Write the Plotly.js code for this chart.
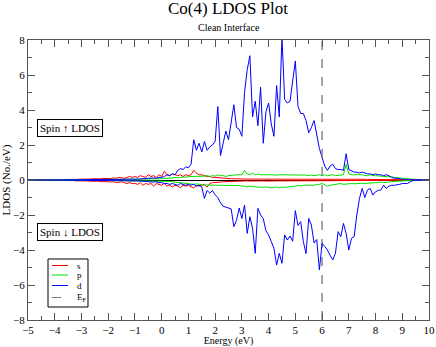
<!DOCTYPE html>
<html>
<head>
<meta charset="utf-8">
<script src="https://cdn.plot.ly/plotly-3.0.1.min.js"></script>
<style>html,body{margin:0;padding:0;background:#fff;}#chart{width:436px;height:347px;}</style>
</head>
<body>
<div id="chart"></div>
<script>
// Energy grid (eV)
const energy = [
-5.0,-4.9,-4.8,-4.7,-4.6,-4.5,-4.4,-4.3,-4.2,-4.1,
-4.0,-3.9,-3.8,-3.7,-3.6,-3.5,-3.4,-3.3,-3.2,-3.1,
-3.0,-2.9,-2.8,-2.7,-2.6,-2.5,-2.4,-2.3,-2.2,-2.1,
-2.0,-1.9,-1.8,-1.7,-1.6,-1.5,-1.4,-1.3,-1.2,-1.1,
-1.0,-0.9,-0.8,-0.7,-0.6,-0.5,-0.4,-0.3,-0.2,-0.1,
0.0,0.1,0.2,0.3,0.4,0.5,0.6,0.7,0.8,0.9,
1.0,1.1,1.2,1.3,1.4,1.5,1.6,1.7,1.8,1.9,
2.0,2.1,2.2,2.3,2.4,2.5,2.6,2.7,2.8,2.9,
3.0,3.1,3.2,3.3,3.4,3.5,3.6,3.7,3.8,3.9,
4.0,4.1,4.2,4.3,4.4,4.5,4.6,4.7,4.8,4.9,
5.0,5.1,5.2,5.3,5.4,5.5,5.6,5.7,5.8,5.9,
6.0,6.1,6.2,6.3,6.4,6.5,6.6,6.7,6.8,6.9,
7.0,7.1,7.2,7.3,7.4,7.5,7.6,7.7,7.8,7.9,
8.0,8.1,8.2,8.3,8.4,8.5,8.6,8.7,8.8,8.9,
9.0,9.1,9.2,9.3,9.4,9.5,9.6,9.7,9.8,9.9,
10.0];

const sUp = [
0,0,0,0,0.01,0.01,0.01,0.01,0.02,0.01,
0.02,0.02,0.03,0.02,0.03,0.02,0.03,0.04,0.03,0.04,
0.05,0.04,0.06,0.05,0.07,0.06,0.08,0.07,0.09,0.08,
0.1,0.08,0.12,0.1,0.15,0.12,0.1,0.15,0.2,0.15,
0.2,0.15,0.25,0.2,0.15,0.3,0.2,0.25,0.15,0.3,
0.2,0.5,0.3,0.25,0.35,0.3,0.25,0.3,0.2,0.3,
0.25,0.3,0.55,0.4,0.3,0.3,0.25,0.2,0.2,0.15,
0.15,0.13,0.12,0.1,0.09,0.08,0.07,0.07,0.06,0.06,
0.06,0.05,0.06,0.05,0.05,0.05,0.06,0.05,0.05,0.05,
0.05,0.05,0.04,0.05,0.05,0.04,0.05,0.05,0.04,0.05,
0.04,0.04,0.05,0.04,0.04,0.05,0.04,0.04,0.04,0.05,
0.04,0.04,0.04,0.04,0.05,0.04,0.04,0.05,0.04,0.08,
0.04,0.04,0.04,0.04,0.04,0.04,0.04,0.03,0.03,0.03,
0.03,0.03,0.03,0.03,0.02,0.02,0.02,0.02,0.02,0.02,
0.01,0.01,0.01,0.01,0.01,0.01,0.01,0.01,0.01,0.01,
0.01];

const sDn = [
0,0,0,0,-0.01,-0.01,-0.01,-0.02,-0.01,-0.02,
-0.02,-0.03,-0.02,-0.03,-0.04,-0.03,-0.04,-0.03,-0.05,-0.04,
-0.05,-0.06,-0.05,-0.07,-0.06,-0.08,-0.07,-0.09,-0.08,-0.1,
-0.1,-0.12,-0.1,-0.15,-0.12,-0.1,-0.15,-0.2,-0.15,-0.2,
-0.2,-0.25,-0.15,-0.3,-0.2,-0.25,-0.2,-0.35,-0.2,-0.25,
-0.3,-0.2,-0.35,-0.3,-0.4,-0.3,-0.35,-0.45,-0.3,-0.35,
-0.3,-0.4,-0.45,-0.3,-0.35,-0.3,-0.25,-0.4,-0.2,-0.15,
-0.15,-0.13,-0.12,-0.1,-0.09,-0.08,-0.08,-0.07,-0.07,-0.06,
-0.06,-0.06,-0.05,-0.06,-0.05,-0.05,-0.06,-0.05,-0.05,-0.06,
-0.05,-0.05,-0.06,-0.05,-0.05,-0.05,-0.05,-0.05,-0.04,-0.05,
-0.04,-0.05,-0.04,-0.04,-0.05,-0.04,-0.04,-0.04,-0.05,-0.04,
-0.04,-0.04,-0.04,-0.04,-0.04,-0.04,-0.04,-0.04,-0.04,-0.04,
-0.04,-0.04,-0.04,-0.03,-0.04,-0.03,-0.03,-0.03,-0.03,-0.03,
-0.03,-0.03,-0.03,-0.02,-0.02,-0.02,-0.02,-0.02,-0.02,-0.02,
-0.01,-0.01,-0.01,-0.01,-0.01,-0.01,-0.01,-0.01,-0.01,-0.01,
-0.01];

const pUp = [
0,0,0,0,0,0,0,0.01,0,0.01,
0.01,0.01,0.01,0.01,0.01,0.01,0.01,0.02,0.01,0.02,
0.02,0.02,0.02,0.02,0.03,0.02,0.03,0.03,0.03,0.03,
0.03,0.03,0.04,0.03,0.04,0.04,0.04,0.04,0.05,0.04,
0.05,0.05,0.05,0.05,0.05,0.05,0.05,0.06,0.05,0.06,
0.05,0.08,0.1,0.1,0.12,0.15,0.12,0.15,0.15,0.18,
0.18,0.2,0.2,0.22,0.2,0.2,0.22,0.25,0.2,0.25,
0.22,0.3,0.25,0.25,0.2,0.25,0.25,0.28,0.3,0.3,
0.3,0.55,0.35,0.3,0.4,0.3,0.35,0.3,0.28,0.3,
0.3,0.28,0.3,0.28,0.3,0.3,0.28,0.28,0.3,0.28,
0.3,0.28,0.3,0.3,0.28,0.25,0.28,0.25,0.28,0.3,
0.25,0.3,0.25,0.28,0.3,0.25,0.28,0.3,0.3,0.9,
0.35,0.3,0.3,0.3,0.28,0.3,0.25,0.25,0.3,0.25,
0.25,0.25,0.22,0.2,0.2,0.2,0.18,0.15,0.12,0.1,
0.1,0.08,0.06,0.05,0.04,0.03,0.02,0.02,0.01,0.01,
0.01];

const pDn = [
0,0,0,0,0,0,0,-0.01,0,-0.01,
-0.01,-0.01,-0.01,-0.01,-0.01,-0.01,-0.01,-0.02,-0.01,-0.02,
-0.02,-0.02,-0.02,-0.02,-0.03,-0.02,-0.03,-0.03,-0.03,-0.03,
-0.03,-0.03,-0.04,-0.03,-0.04,-0.04,-0.04,-0.04,-0.05,-0.04,
-0.05,-0.05,-0.05,-0.05,-0.05,-0.05,-0.05,-0.06,-0.05,-0.06,
-0.05,-0.06,-0.08,-0.08,-0.1,-0.12,-0.1,-0.15,-0.15,-0.2,
-0.2,-0.2,-0.25,-0.22,-0.25,-0.25,-0.3,-0.28,-0.3,-0.3,
-0.3,-0.3,-0.3,-0.32,-0.3,-0.3,-0.33,-0.3,-0.3,-0.32,
-0.35,-0.35,-0.4,-0.35,-0.38,-0.4,-0.42,-0.4,-0.42,-0.4,
-0.42,-0.45,-0.42,-0.4,-0.45,-0.4,-0.42,-0.4,-0.38,-0.4,
-0.35,-0.3,-0.35,-0.3,-0.3,-0.28,-0.3,-0.3,-0.25,-0.25,
-0.2,-0.3,-0.35,-0.3,-0.28,-0.25,-0.25,-0.2,-0.25,-0.22,
-0.2,-0.2,-0.22,-0.2,-0.2,-0.18,-0.2,-0.18,-0.2,-0.15,
-0.15,-0.15,-0.12,-0.15,-0.12,-0.1,-0.1,-0.08,-0.08,-0.06,
-0.05,-0.05,-0.04,-0.03,-0.03,-0.02,-0.02,-0.01,-0.01,-0.01,
-0.01];

const dUp = [
0,0,0,0,0,0.01,0,0.01,0.01,0.01,
0.01,0.01,0.01,0.01,0.01,0.01,0.02,0.01,0.02,0.02,
0.02,0.02,0.02,0.02,0.03,0.02,0.03,0.03,0.03,0.03,
0.03,0.03,0.04,0.03,0.04,0.04,0.04,0.05,0.04,0.05,
0.05,0.05,0.06,0.08,0.1,0.08,0.1,0.12,0.1,0.15,
0.15,0.2,0.3,0.25,0.35,0.3,0.55,0.65,0.6,0.75,
0.7,0.9,2.3,1.7,2.1,1.6,2.2,1.7,1.9,2.0,
2.2,4.2,1.4,2.1,2.8,2.3,3.3,4.3,3.0,2.9,
2.5,5.0,6.3,7.1,3.6,4.5,3.1,5.3,2.1,3.9,
4.4,3.2,2.5,5.4,3.6,8.2,4.6,4.4,4.5,5.8,
6.8,4.2,3.8,3.8,3.4,2.7,3.0,3.4,2.7,1.8,
1.3,0.8,0.55,0.8,0.9,0.65,0.6,0.6,0.55,1.5,
0.6,0.5,0.45,0.45,0.4,0.45,0.4,0.35,0.35,0.3,
0.35,0.3,0.3,0.25,0.3,0.25,0.15,0.1,0.1,0.05,
0.04,0.03,0.03,0.02,0.02,0.02,0.02,0.01,0.01,0.01,
0.01];

const dDn = [
0,0,0,0,0,-0.01,0,-0.01,-0.01,-0.01,
-0.01,-0.01,-0.01,-0.01,-0.01,-0.01,-0.02,-0.01,-0.02,-0.02,
-0.02,-0.02,-0.02,-0.02,-0.03,-0.02,-0.03,-0.03,-0.03,-0.03,
-0.03,-0.03,-0.04,-0.03,-0.04,-0.04,-0.04,-0.05,-0.04,-0.05,
-0.05,-0.05,-0.06,-0.08,-0.1,-0.08,-0.1,-0.12,-0.1,-0.15,
-0.15,-0.2,-0.2,-0.25,-0.2,-0.25,-0.3,-0.2,-0.25,-0.3,
-0.25,-0.3,-0.25,-0.35,-0.3,-0.4,-1.05,-0.6,-0.75,-0.6,
-0.85,-1.0,-1.3,-1.5,-1.55,-1.6,-1.65,-2.67,-2.3,-1.6,
-2.2,-1.43,-3.05,-2.1,-2.76,-4.19,-1.62,-2.0,-2.2,-2.9,
-3.14,-3.52,-3.9,-4.86,-4.19,-4.76,-3.14,-3.43,-3.2,-3.5,
-1.75,-2.6,-2.38,-3.52,-4.2,-2.2,-2.57,-3.6,-3.4,-5.14,
-3.62,-3.8,-4.0,-4.3,-4.57,-4.19,-2.95,-3.24,-2.48,-3.05,
-4.0,-3.33,-3.24,-2.0,-1.05,-0.48,-1.0,-0.57,-0.48,-0.86,
-0.67,-0.6,-0.57,-0.29,-0.48,-0.35,-0.3,-0.3,-0.29,-0.25,
-0.2,-0.22,-0.2,-0.1,-0.03,-0.02,-0.02,-0.01,-0.01,-0.01,
-0.01];

const fermiEnergy = [6, 6];
const fermiSpan = [-8, 8];

// legend entries
const legendLabels = ['s', 'p', 'd', 'E<sub>F</sub>'];

const FONT = 'Liberation Serif, Times New Roman, serif';
const RED = '#ff0000', GREEN = '#00e000', BLUE = '#0000ff', FERMI = '#777777';
const legendColors = [RED, GREEN, BLUE, FERMI];
const legendDashes = ['solid', 'solid', 'solid', 'dash'];

const traces = [
  {x: energy, y: sUp, name: 's', mode: 'lines', line: {color: RED, width: 1}},
  {x: energy, y: pUp, name: 'p', mode: 'lines', line: {color: GREEN, width: 1}},
  {x: energy, y: dUp, name: 'd', mode: 'lines', line: {color: BLUE, width: 1}},
  {x: fermiEnergy, y: fermiSpan, name: 'E_F', mode: 'lines', line: {color: FERMI, width: 1.3, dash: 'dash'}},
  {x: energy, y: sDn, name: 's down', mode: 'lines', line: {color: RED, width: 1}},
  {x: energy, y: pDn, name: 'p down', mode: 'lines', line: {color: GREEN, width: 1}},
  {x: energy, y: dDn, name: 'd down', mode: 'lines', line: {color: BLUE, width: 1}}
];

const axisCommon = {
  showline: true, linecolor: '#555', linewidth: 1, mirror: 'ticks',
  ticks: 'inside', ticklen: 7, tickcolor: '#555', tickwidth: 1, automargin: false,
  showgrid: false, tickfont: {family: FONT, size: 11, color: '#000'}
};

// Compact boxed legend in the lower-left corner (paper coordinates)
const legBox = {x0: 0.0499, x1: 0.1496, y0: 0.0464, y1: 0.2179};
const legRowY = [0.1946, 0.1607, 0.1232, 0.0804];
const shapes = [
  {type: 'rect', xref: 'paper', yref: 'paper', x0: legBox.x0, x1: legBox.x1, y0: legBox.y0, y1: legBox.y1,
   line: {color: '#000', width: 1}, fillcolor: '#fff', layer: 'above'}
];
const annotations = [
  {xref: 'paper', yref: 'paper', x: 0.5, y: 1.043, text: 'Clean Interface', showarrow: false,
   font: {family: FONT, size: 10}, xanchor: 'center', yanchor: 'middle'},
  {x: -3.43, y: 2.95, text: 'Spin \u2191 LDOS', showarrow: false, font: {family: FONT, size: 11},
   bordercolor: '#000', borderwidth: 1, bgcolor: '#fff', borderpad: 2},
  {x: -3.43, y: -2.95, text: 'Spin \u2193 LDOS', showarrow: false, font: {family: FONT, size: 11},
   bordercolor: '#000', borderwidth: 1, bgcolor: '#fff', borderpad: 2}
];
legendLabels.forEach((lab, i) => {
  shapes.push({type: 'line', xref: 'paper', yref: 'paper', x0: 0.0599, x1: 0.0998, y0: legRowY[i], y1: legRowY[i],
               line: {color: legendColors[i], width: 1, dash: legendDashes[i]}, layer: 'above'});
  annotations.push({xref: 'paper', yref: 'paper', x: 0.117, y: legRowY[i], text: lab, showarrow: false,
                    xanchor: 'left', yanchor: 'middle', font: {family: FONT, size: 9}});
});

const layout = {
  width: 436, height: 347,
  margin: {l: 28, r: 7, t: 40, b: 27},
  paper_bgcolor: '#fff', plot_bgcolor: '#fff',
  font: {family: FONT, color: '#000'},
  title: {text: 'Co(4) LDOS Plot', font: {family: FONT, size: 17}, x: 0.523, xanchor: 'center', y: 0.978, yanchor: 'middle'},
  showlegend: false,
  xaxis: Object.assign({}, axisCommon, {
    range: [-5, 10], dtick: 1, tick0: -5, zeroline: false,
    minor: {dtick: 0.5, ticks: 'inside', ticklen: 4, tickcolor: '#555', showgrid: false},
    title: {text: 'Energy (eV)', font: {family: FONT, size: 10}, standoff: 2}
  }),
  yaxis: Object.assign({}, axisCommon, {
    range: [-8, 8], dtick: 2, tick0: -8,
    zeroline: true, zerolinecolor: '#000', zerolinewidth: 1,
    minor: {dtick: 1, ticks: 'inside', ticklen: 4, tickcolor: '#555', showgrid: false},
    title: {text: 'LDOS (No./eV)', font: {family: FONT, size: 11}, standoff: 2}
  }),
  shapes: shapes,
  annotations: annotations
};

Plotly.newPlot('chart', traces, layout, {displayModeBar: false, staticPlot: true});
</script>
</body>
</html>
